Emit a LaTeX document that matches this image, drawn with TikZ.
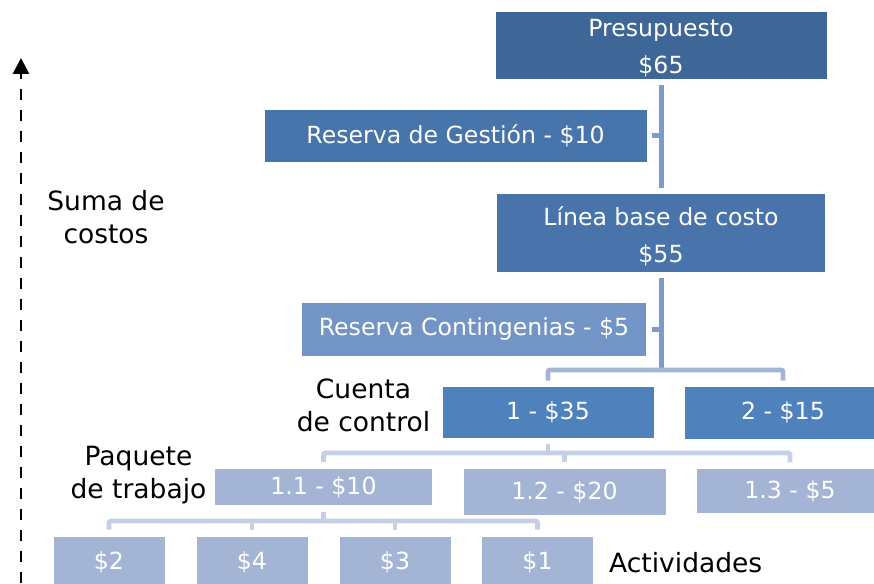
\documentclass[tikz,border=0pt]{standalone}
\usepackage{fontspec}
\setmainfont{DejaVu Sans}
\usetikzlibrary{arrows.meta}
\definecolor{cPres}{RGB}{62,102,150}
\definecolor{cRG}{RGB}{71,116,170}
\definecolor{cLB}{RGB}{72,116,171}
\definecolor{cRC}{RGB}{115,149,198}
\definecolor{cCC}{RGB}{79,129,189}
\definecolor{cWP}{RGB}{163,180,213}
\definecolor{cLineA}{RGB}{124,155,203}
\definecolor{cLineB}{RGB}{163,180,213}
\definecolor{cLineC}{RGB}{197,208,230}
\tikzset{
  box/.style={rectangle, draw=white, line width=0.8pt, inner sep=0pt, text=white,
    align=center, font=\fontsize{23.6}{37}\selectfont},
  lbl/.style={inner sep=0pt, align=center, text=black, font=\fontsize{26.5}{33}\selectfont},
  connA/.style={draw=cLineA, line width=5pt},
  connB/.style={draw=cLineB, line width=4.8pt, rounded corners=2pt},
  connC/.style={draw=cLineC, line width=4.8pt, rounded corners=2pt},
  axis/.style={draw=black, line width=2.8pt, dash pattern=on 11pt off 10pt,
    -{Triangle[width=16pt,length=16pt]}}
}
\begin{document}
\begin{tikzpicture}[x=1pt,y=-1pt]
\useasboundingbox (0,0) rectangle (874,583);
\clip (0,0) rectangle (874,583);
\fill[white] (0,0) rectangle (874,583);

% boxes
\node[box, fill=cPres, minimum width=332pt, minimum height=68pt] (pres) at (661,45) {Presupuesto\rule{0pt}{24pt}\\\$65};
\node[box, fill=cRG, minimum width=383pt, minimum height=53pt] (rg) at (455.5,135.5) {Reserva de Gestión - \$10};
\node[box, fill=cLB, minimum width=329pt, minimum height=79pt] (lb) at (661,232.5) {Línea base de costo\rule{0pt}{26pt}\\\$55};
\node[box, fill=cRC, minimum width=345pt, minimum height=54pt] (rc) at (474,329) {Reserva Contingenias - \$5};
\node[box, fill=cCC, minimum width=212pt, minimum height=52pt] (c1) at (548,412) {1 - \$35};
\node[box, fill=cCC, minimum width=197pt, minimum height=53pt] (c2) at (783,412.5) {2 - \$15};
\node[box, fill=cWP, minimum width=218pt, minimum height=37pt] (p11) at (323.5,487) {1.1 - \$10};
\node[box, fill=cWP, minimum width=203pt, minimum height=46.5pt] (p12) at (564.5,492) {1.2 - \$20};
\node[box, fill=cWP, minimum width=188pt, minimum height=44.5pt] (p13) at (790,491) {1.3 - \$5};
\node[box, fill=cWP, minimum width=112pt, minimum height=52pt] (a1) at (109,562) {\$2};
\node[box, fill=cWP, minimum width=112pt, minimum height=52pt] (a2) at (252,562) {\$4};
\node[box, fill=cWP, minimum width=112pt, minimum height=52pt] (a3) at (395,562) {\$3};
\node[box, fill=cWP, minimum width=112pt, minimum height=52pt] (a4) at (537.5,562) {\$1};

% labels
\node[lbl] (suma) at (106,217) {Suma de\\costos};
\node[lbl] (cuenta) at (363.5,405) {Cuenta\\de control};
\node[lbl] (paquete) at (138.5,475.5) {Paquete\\de trabajo};
\node[lbl, anchor=base west] (activ) at (609,572) {Actividades};

% connectors
\coordinate (barA) at (661,370);
\coordinate (barB) at (548,453);
\coordinate (barC) at (323.5,521);
\draw[connA] ([yshift=-6pt]pres.south) -- ([yshift=5pt]lb.north);
\draw[connA] ([xshift=5pt]rg.east) -- (rg.east -| pres.south);
\draw[connA] ([yshift=-6pt]lb.south) -- (barA);
\draw[connA] ([xshift=5pt]rc.east) -- (rc.east -| lb.south);
\draw[connB] ([yshift=5pt]c1.north) |- (barA) -| ([yshift=5pt]c2.north);
\draw[connC] ([yshift=-6pt]c1.south) -- (barB);
\draw[connC] ([yshift=6pt]p11.north) |- (barB) -| ([yshift=6pt]p13.north);
\draw[connC] (barB -| p12.north) -- ([yshift=6pt]p12.north);
\draw[connC] ([yshift=-6pt]p11.south) -- (barC);
\draw[connC] ([yshift=6pt]a1.north) |- (barC) -| ([yshift=6pt]a4.north);
\draw[connC] (barC -| a2.north) -- ([yshift=6pt]a2.north);
\draw[connC] (barC -| a3.north) -- ([yshift=6pt]a3.north);

% axis arrow
\coordinate (axB) at (21,583);
\coordinate (axT) at (21,58);
\draw[axis] (axB) -- (axT);
\end{tikzpicture}
\end{document}
